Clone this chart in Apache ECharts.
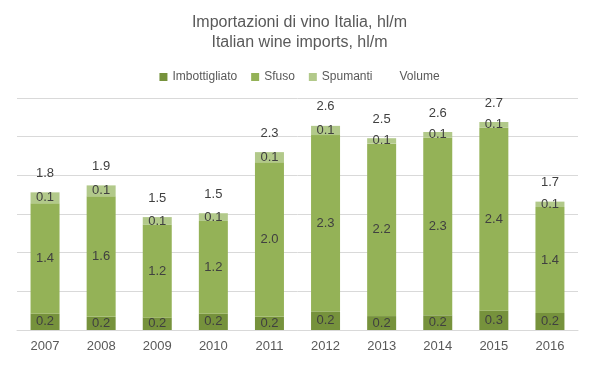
<!DOCTYPE html>
<html>
<head>
<meta charset="utf-8">
<script src="https://cdn.jsdelivr.net/npm/echarts@6/dist/echarts.min.js"></script>
<style>
  html, body { margin: 0; padding: 0; background: #fff; }
  #chart { width: 599px; height: 378px; }
</style>
</head>
<body>
<div id="chart"></div>
<script>
var years = ['2007','2008','2009','2010','2011','2012','2013','2014','2015','2016'];
var imbottigliato = [0.21, 0.17, 0.16, 0.21, 0.17, 0.24, 0.18, 0.19, 0.25, 0.22];
var sfuso = [1.43, 1.56, 1.20, 1.20, 2.00, 2.28, 2.23, 2.30, 2.37, 1.37];
var spumanti = [0.14, 0.14, 0.10, 0.10, 0.13, 0.12, 0.07, 0.07, 0.07, 0.07];
var volume = [1.78, 1.87, 1.46, 1.51, 2.30, 2.64, 2.48, 2.56, 2.69, 1.66];

var font = '"Liberation Sans Narrow", "Liberation Sans", sans-serif';

var myChart = echarts.init(document.getElementById('chart'));

function segLabel() {
    return {
        show: true,
        position: 'inside',
        color: '#404040',
        fontSize: 13,
        fontFamily: font,
        formatter: function (p) { return p.value.toFixed(1); }
    };
}

var option = {
    animation: false,
    title: {
        text: 'Importazioni di vino Italia, hl/m\nItalian wine imports, hl/m',
        left: 'center',
        top: 8,
        textStyle: {
            color: '#595959',
            fontSize: 16,
            fontWeight: 'normal',
            fontFamily: font,
            lineHeight: 20
        }
    },
    legend: {
        top: 66,
        left: 'center',
        itemWidth: 8,
        itemHeight: 8,
        itemGap: 14,
        textStyle: { color: '#595959', fontSize: 12, fontFamily: font },
        data: [
            { name: 'Imbottigliato', icon: 'rect' },
            { name: 'Sfuso', icon: 'rect' },
            { name: 'Spumanti', icon: 'rect' },
            { name: 'Volume', icon: 'none' }
        ]
    },
    grid: {
        left: 17,
        right: 21,
        top: 98,
        bottom: 48
    },
    xAxis: {
        type: 'category',
        data: years,
        axisTick: { show: false },
        axisLine: { lineStyle: { color: '#d9d9d9' } },
        axisLabel: { color: '#595959', fontSize: 13, fontFamily: font, margin: 10 }
    },
    yAxis: {
        type: 'value',
        min: 0,
        max: 3,
        interval: 0.5,
        axisLabel: { show: false },
        axisLine: { show: false },
        axisTick: { show: false },
        splitLine: { lineStyle: { color: '#d9d9d9' } }
    },
    series: [
        {
            name: 'Imbottigliato',
            type: 'bar',
            stack: 'tot',
            barWidth: 29,
            itemStyle: { color: '#76923c' },
            label: segLabel(),
            data: imbottigliato
        },
        {
            name: 'Sfuso',
            type: 'bar',
            stack: 'tot',
            itemStyle: { color: '#94b257' },
            label: segLabel(),
            data: sfuso
        },
        {
            name: 'Spumanti',
            type: 'bar',
            stack: 'tot',
            itemStyle: { color: '#b2c98a' },
            label: segLabel(),
            data: spumanti
        },
        {
            name: 'Volume',
            type: 'line',
            symbol: 'circle',
            symbolSize: 1,
            showSymbol: true,
            lineStyle: { opacity: 0 },
            itemStyle: { color: 'rgba(0,0,0,0)' },
            label: {
                show: true,
                position: 'top',
                distance: 12,
                color: '#404040',
                fontSize: 13,
                fontFamily: font,
                formatter: function (p) { return p.value.toFixed(1); }
            },
            data: volume
        }
    ]
};
myChart.setOption(option);
</script>
</body>
</html>
